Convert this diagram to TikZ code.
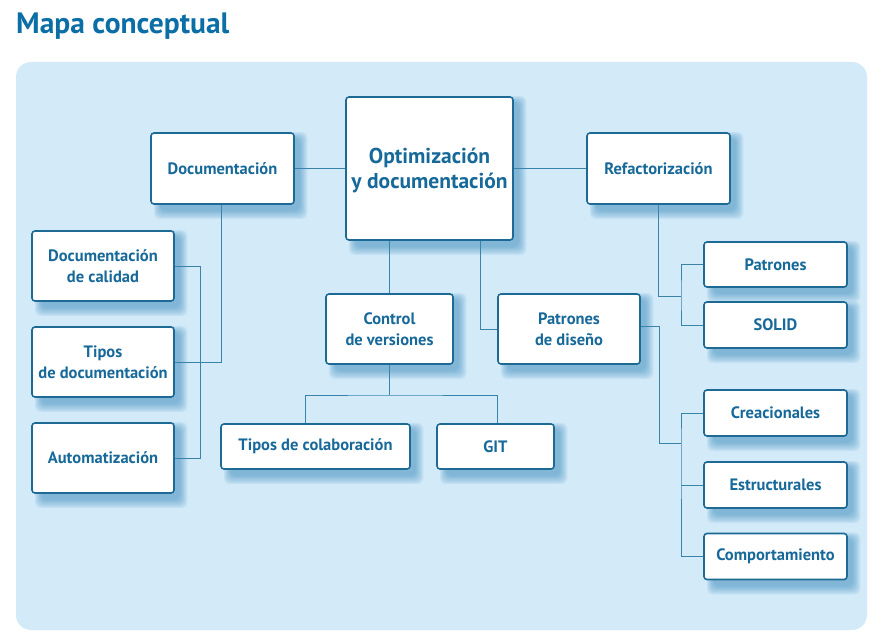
\documentclass[tikz,border=0pt]{standalone}
\usepackage{fontspec}
\setmainfont{PT Sans}[UprightFont=* Bold]
\usetikzlibrary{backgrounds,calc}
\definecolor{panel}{HTML}{D3EBF9}
\definecolor{txt}{HTML}{17699A}
\definecolor{ttl}{HTML}{0B6EA6}
\definecolor{bord}{HTML}{1D6A95}
\definecolor{lin}{HTML}{3A84AC}
\definecolor{shad}{HTML}{3A8BBE}
\tikzset{
  box/.style={draw=bord, line width=1.6pt, fill=white, rounded corners=3pt,
    inner sep=0pt, align=center, text=txt, font=\fontsize{16.5}{21}\selectfont},
  conn/.style={draw=lin, line width=1pt},
}
\newcommand{\myshadow}[1]{%
  \foreach \k in {0,...,7}{%
    \fill[shad, opacity=0.085, rounded corners=6pt]
      ($(#1.north west)+(10pt-\k*0.9pt,-6pt+\k*0.9pt)$) rectangle
      ($(#1.south east)+(5pt+\k*1.1pt,-6pt-\k*1.2pt)$);
  }%
}
\begin{document}
\begin{tikzpicture}[x=1pt,y=-1pt]
\useasboundingbox (0,0) rectangle (884,642);
\node[anchor=base west, text=ttl, font=\fontsize{29.5}{34}\selectfont, inner sep=0pt] (title) at (16,34) {Mapa conceptual};

\node[box, minimum width=167pt, minimum height=143pt, font=\fontsize{21.5}{25}\selectfont, text depth=0pt] (central) at (429.5,168.5) {Optimización\\y documentación};
\node[box, minimum width=143pt, minimum height=71pt] (doc) at (222.5,168.5) {Documentación};
\node[box, minimum width=143pt, minimum height=71pt] (refac) at (658.5,168.5) {Refactorización};
\node[box, minimum width=142pt, minimum height=70pt] (dcal) at (103,266) {Documentación\\de calidad};
\node[box, minimum width=142pt, minimum height=70pt] (tdoc) at (103,362) {Tipos\\de documentación};
\node[box, minimum width=142pt, minimum height=70pt] (auto) at (103,458) {Automatización};
\node[box, minimum width=127pt, minimum height=70pt] (ctrl) at (389.5,329) {Control\\de versiones};
\node[box, minimum width=142pt, minimum height=70pt] (pdis) at (569,329) {Patrones\\de diseño};
\node[box, minimum width=189pt, minimum height=45pt] (tcol) at (315.5,446.5) {Tipos de colaboración};
\node[box, minimum width=117pt, minimum height=45pt] (git) at (495.5,446.5) {GIT};
\node[box, minimum width=143pt, minimum height=45pt] (pat) at (775.5,264.5) {Patrones};
\node[box, minimum width=143pt, minimum height=46pt] (solid) at (775.5,325) {SOLID};
\node[box, minimum width=143pt, minimum height=46pt] (crea) at (775.5,413) {Creacionales};
\node[box, minimum width=143pt, minimum height=46pt] (estr) at (775.5,485) {Estructurales};
\node[box, minimum width=143pt, minimum height=46pt] (comp) at (775.5,556.5) {Comportamiento};

\coordinate (cj) at (389.5,395);
\coordinate (rj) at (681,296);
\coordinate (pk) at (659,443);
\coordinate (pj) at (681,443);

\begin{scope}[on background layer]
  \fill[panel, rounded corners=15pt] (16,62) rectangle (867,630);
  \foreach \n in {central,doc,refac,dcal,tdoc,auto,ctrl,pdis,tcol,git,pat,solid,crea,estr,comp}{\myshadow{\n}}
  \draw[conn] (doc.east) -- (central.west);
  \draw[conn] (central.east) -- (refac.west);
  \draw[conn] ([xshift=-1.5pt]doc.south) |- (tdoc.east);
  \draw[conn] (dcal.east) -| ([xshift=26pt]tdoc.east) |- (auto.east);
  \draw[conn] (ctrl.north) -- (ctrl.north |- central.south);
  \draw[conn] (pdis.west) -| ([xshift=50.5pt]central.south);
  \draw[conn] (ctrl.south) -- (cj);
  \draw[conn] ([xshift=-10.5pt]tcol.north) |- (cj) -| ([xshift=1.5pt]git.north);
  \draw[conn] (refac.south) |- (rj);
  \draw[conn] (pat.west) -| (rj) |- (solid.west);
  \draw[conn] ([yshift=3pt]pdis.east) -| (pk) -- (pj);
  \draw[conn] (crea.west) -| (pj) |- (comp.west);
  \draw[conn] (estr.west) -- (estr.west -| pj);
\end{scope}
\end{tikzpicture}
\end{document}
